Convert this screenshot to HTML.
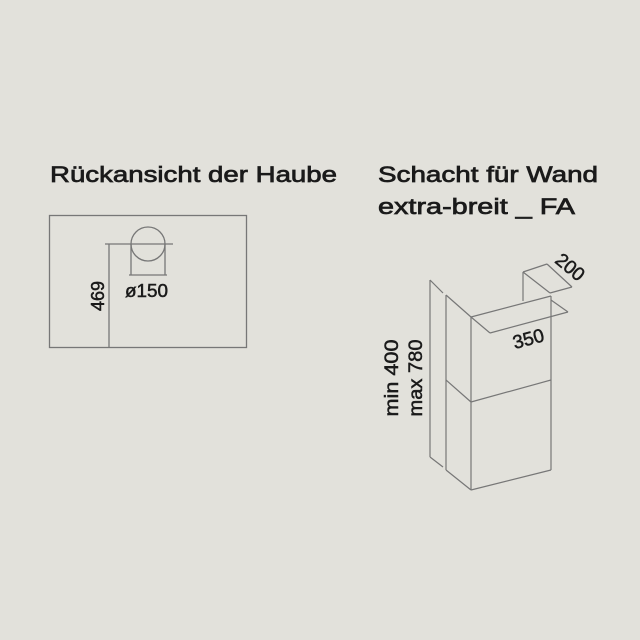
<!DOCTYPE html>
<html><head><style>
html,body{margin:0;padding:0;background:#e2e1db;}
svg{display:block}
text{font-family:"Liberation Sans",sans-serif;fill:#1a1a1a;stroke:#1a1a1a}
</style></head><body>
<svg width="640" height="640" viewBox="0 0 640 640">
<rect width="640" height="640" fill="#e2e1db"/>
<g font-size="22" stroke-width="0.7">
<text x="50" y="182" textLength="287" lengthAdjust="spacingAndGlyphs">Rückansicht der Haube</text>
<text x="378" y="182" textLength="220" lengthAdjust="spacingAndGlyphs">Schacht für Wand</text>
<text x="378" y="214" textLength="197" lengthAdjust="spacingAndGlyphs">extra-breit _ FA</text>
</g>
<g fill="none" stroke="#777" stroke-width="1.3">
<rect x="49.5" y="215.5" width="197" height="132"/>
<circle cx="148" cy="244" r="17"/>
<line x1="105" y1="244" x2="173" y2="244"/>
<line x1="109" y1="244" x2="109" y2="347"/>
<line x1="131" y1="244" x2="131" y2="275"/>
<line x1="165" y1="244" x2="165" y2="275"/>
<line x1="129" y1="275" x2="167" y2="275"/>
</g>
<g font-size="18" stroke-width="0.5">
<text x="125" y="297" textLength="43" lengthAdjust="spacingAndGlyphs">ø150</text>
<text transform="translate(104,296) rotate(-90)" text-anchor="middle">469</text>
</g>
<g fill="none" stroke="#777" stroke-width="1.2">
<line x1="430" y1="280" x2="430" y2="457"/>
<line x1="430" y1="280" x2="443" y2="293"/>
<line x1="430" y1="457" x2="443" y2="467"/>
<line x1="446" y1="295" x2="446" y2="470"/>
<line x1="471" y1="317" x2="471" y2="490"/>
<line x1="551" y1="296" x2="551" y2="470"/>
<line x1="446" y1="295" x2="471" y2="317"/>
<line x1="471" y1="317" x2="551" y2="296"/>
<line x1="446" y1="470" x2="471" y2="490"/>
<line x1="471" y1="490" x2="551" y2="470"/>
<line x1="446" y1="380" x2="471" y2="402"/>
<line x1="471" y1="402" x2="551" y2="380"/>
<line x1="523" y1="272" x2="523" y2="301"/>
<line x1="523" y1="272" x2="547" y2="264"/>
<line x1="523" y1="272" x2="550" y2="293"/>
<line x1="547" y1="264" x2="572" y2="287"/>
<line x1="550" y1="293" x2="572" y2="287"/>
<line x1="471" y1="317" x2="490" y2="333"/>
<line x1="490" y1="333" x2="568" y2="312"/>
<line x1="551" y1="300" x2="568" y2="312"/>
</g>
<g font-size="19" stroke-width="0.5">
<text transform="translate(530,345) rotate(-15)" text-anchor="middle">350</text>
<text transform="translate(566,272) rotate(40)" text-anchor="middle">200</text>
<text transform="translate(398,378) rotate(-90)" text-anchor="middle" textLength="77" lengthAdjust="spacingAndGlyphs">min 400</text>
<text transform="translate(422,378) rotate(-90)" text-anchor="middle" textLength="77" lengthAdjust="spacingAndGlyphs">max 780</text>
</g>
</svg>
</body></html>
